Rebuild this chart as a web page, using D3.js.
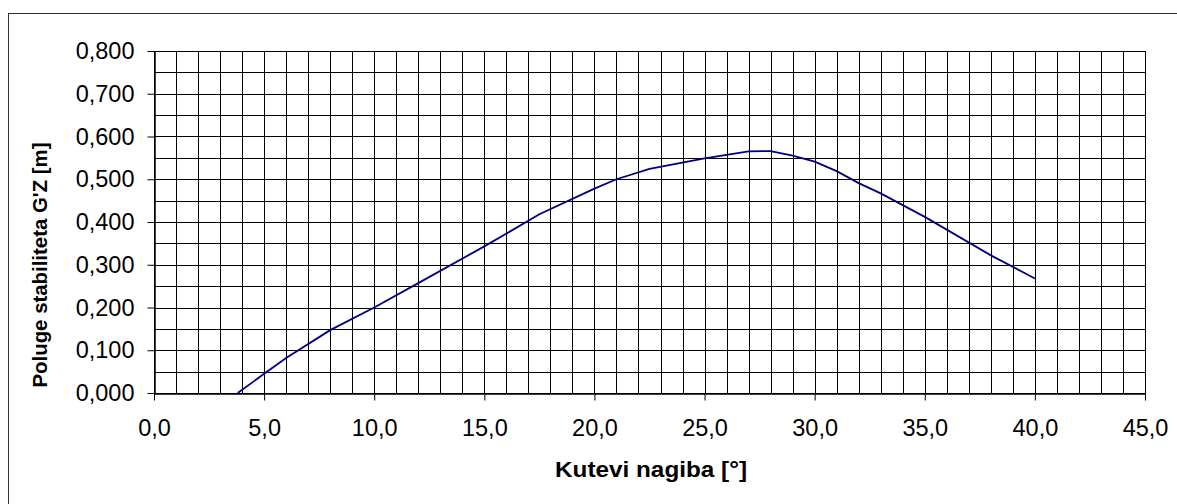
<!DOCTYPE html>
<html>
<head>
<meta charset="utf-8">
<script src="https://cdn.jsdelivr.net/npm/d3@7"></script>
<style>
  body { margin: 0; background: #fff; }
  svg { display: block; font-family: Arial, "Liberation Sans", sans-serif; }
</style>
</head>
<body>
<div id="chart"></div>
<script>
// kut nagiba [deg] i poluga stabiliteta G'Z [m]
var angles = [3.8, 4.5, 5, 6, 8, 10, 12, 15, 17.5, 20, 21, 22.5, 25, 27, 28, 29, 30, 31, 32, 33, 35, 38, 40];
var gz =     [0.000, 0.026, 0.045, 0.082, 0.147, 0.200, 0.257, 0.343, 0.418, 0.478, 0.500, 0.524, 0.549, 0.565, 0.566, 0.555, 0.541, 0.519, 0.491, 0.467, 0.412, 0.322, 0.268];
var xTicks = [0, 5, 10, 15, 20, 25, 30, 35, 40, 45];
var yTicks = [0, 0.1, 0.2, 0.3, 0.4, 0.5, 0.6, 0.7, 0.8];

var W = 1177, H = 504;
var plot = {left: 154, top: 51, right: 1145, bottom: 393};

var svg = d3.select("#chart").append("svg")
    .attr("width", W)
    .attr("height", H);

// okvir grafikona
svg.append("rect")
    .attr("x", 8.5).attr("y", 13.5)
    .attr("width", W - 8).attr("height", H)
    .attr("fill", "none")
    .attr("stroke", "#333")
    .attr("stroke-width", 1);

var x = d3.scaleLinear().domain([0, 45]).range([plot.left, plot.right]);
var y = d3.scaleLinear().domain([0, 0.8]).range([plot.bottom, plot.top]);

var fmt = function(n, d){ return n.toFixed(d).replace(".", ","); };

// mreza
var grid = svg.append("g").attr("stroke", "#000").attr("stroke-width", 1).attr("shape-rendering", "crispEdges");
grid.selectAll(".vg")
    .data(d3.range(1, 45))
    .enter().append("line")
    .attr("x1", d => Math.round(x(d)) + 0.5).attr("x2", d => Math.round(x(d)) + 0.5)
    .attr("y1", plot.top).attr("y2", plot.bottom);
grid.selectAll(".hg")
    .data(d3.range(1, 16).map(d => d * 0.05))
    .enter().append("line")
    .attr("y1", d => Math.round(y(d)) + 0.5).attr("y2", d => Math.round(y(d)) + 0.5)
    .attr("x1", plot.left).attr("x2", plot.right);

svg.append("rect")
    .attr("x", plot.left + 0.5).attr("y", plot.top + 0.5)
    .attr("width", plot.right - plot.left).attr("height", plot.bottom - plot.top)
    .attr("fill", "none").attr("stroke", "#000").attr("stroke-width", 1.2)
    .attr("shape-rendering", "crispEdges");

// osi
var xAxis = d3.axisBottom(x).tickValues(xTicks).tickSize(7).tickSizeOuter(0).tickPadding(19)
    .tickFormat(d => fmt(d, 1));
var gx = svg.append("g").attr("transform", `translate(0,${plot.bottom + 0.5})`).call(xAxis);

var yAxis = d3.axisLeft(y).tickValues(yTicks).tickSize(7).tickSizeOuter(0).tickPadding(13)
    .tickFormat(d => fmt(d, 3));
var gy = svg.append("g").attr("transform", `translate(${plot.left + 0.5},0)`).call(yAxis);

[gx, gy].forEach(function(g){
    g.select(".domain").attr("stroke", "#000").attr("stroke-width", 1.5);
    g.selectAll(".tick line").attr("stroke", "#000");
    g.selectAll(".tick text")
        .attr("fill", "#000")
        .style("font-size", "23.5px")
        .style("font-family", "Arial, 'Liberation Sans', sans-serif");
});

// krivulja
var line = d3.line()
    .x((d, i) => x(angles[i]))
    .y(d => y(d));
svg.append("path")
    .datum(gz)
    .attr("d", line)
    .attr("fill", "none")
    .attr("stroke", "#000080")
    .attr("stroke-width", 1.8);

// naslovi osi
svg.append("text")
    .attr("x", 651)
    .attr("y", 477)
    .attr("text-anchor", "middle")
    .attr("textLength", 192)
    .attr("lengthAdjust", "spacingAndGlyphs")
    .style("font-size", "22px")
    .style("font-weight", "bold")
    .text("Kutevi nagiba [°]");

svg.append("text")
    .attr("transform", `translate(47,265) rotate(-90)`)
    .attr("text-anchor", "middle")
    .attr("textLength", 245)
    .attr("lengthAdjust", "spacingAndGlyphs")
    .style("font-size", "20px")
    .style("font-weight", "bold")
    .text("Poluge stabiliteta G'Z [m]");
</script>
</body>
</html>
